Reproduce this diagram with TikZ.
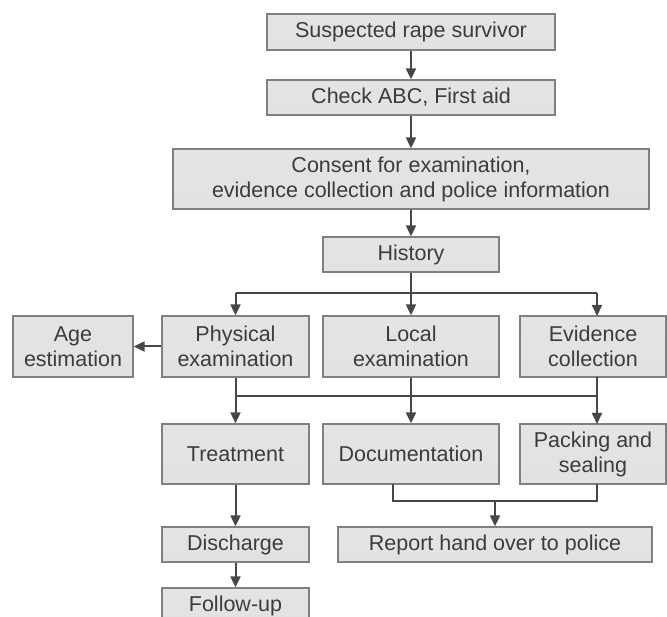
\documentclass[tikz,border=0pt]{standalone}
\usepackage{fontspec}
\setmainfont{Liberation Sans}
\usetikzlibrary{arrows.meta,calc}
\definecolor{txt}{HTML}{3C3C3C}
\definecolor{edge}{HTML}{808080}
\definecolor{ln}{HTML}{474747}
\definecolor{shtop}{HTML}{E4E4E4}
\definecolor{shmid}{HTML}{FCFCFC}
\definecolor{shbot}{HTML}{E2E2E2}
\begin{document}
\begin{tikzpicture}[x=1pt,y=-1pt,
  box/.style={draw=edge, line width=1.3pt, rectangle, inner sep=0pt,
    top color=shtop, middle color=shmid, bottom color=shbot,
    text=txt, align=center,
    font=\fontsize{21.5}{25}\selectfont},
  conn/.style={draw=ln, line width=2pt},
  arr/.style={conn, -{Triangle[width=10pt,length=11pt]}}]
\useasboundingbox (0,0) rectangle (667,617);
\clip (0,0) rectangle (667,617);
\node[box, minimum width=288pt, minimum height=36pt] (sus) at (411,32) {Suspected rape survivor};
\node[box, minimum width=288pt, minimum height=35pt] (chk) at (411,97.5) {Check ABC, First aid};
\node[box, minimum width=476pt, minimum height=60pt] (con) at (411,179) {Consent for examination,\\evidence collection and police information};
\node[box, minimum width=176pt, minimum height=35pt] (his) at (411,254.5) {History};
\node[box, minimum width=120pt, minimum height=61pt] (age) at (73,346.5) {Age\\estimation};
\node[box, minimum width=147pt, minimum height=61pt] (phy) at (235.5,346.5) {Physical\\examination};
\node[box, minimum width=176pt, minimum height=61pt] (loc) at (411,346.5) {Local\\examination};
\node[box, minimum width=146pt, minimum height=61pt] (evi) at (593,346.5) {Evidence\\collection};
\node[box, minimum width=147pt, minimum height=60pt] (tre) at (235.5,454) {Treatment};
\node[box, minimum width=176pt, minimum height=60pt] (doc) at (411,454) {Documentation};
\node[box, minimum width=146pt, minimum height=60pt] (pac) at (593,454) {Packing and\\sealing};
\node[box, minimum width=147pt, minimum height=35pt] (dis) at (235.5,544.5) {Discharge};
\node[box, minimum width=314pt, minimum height=35pt] (rep) at (495,544.5) {Report hand over to police};
\node[box, minimum width=147pt, minimum height=36pt] (fol) at (235.5,606) {Follow-up};
% coordinates of connector junctions
\coordinate (j1) at (411,293);
\coordinate (j1l) at (235.5,293);
\coordinate (j1r) at (597,293);
\coordinate (j2l) at (235.5,396);
\coordinate (j2r) at (597,396);
\coordinate (evs) at (597,377);
\coordinate (pan) at (597,424);
\coordinate (pas) at (597,484);
\coordinate (dcs) at (393,484);
\coordinate (j3l) at (393,501);
\coordinate (j3r) at (597,501);
\coordinate (j3m) at (495,501);
\coordinate (evn) at (597,316);
% connectors
\draw[arr] (sus) -- (chk);
\draw[arr] (chk) -- (con);
\draw[arr] (con) -- (his);
\draw[conn] (his) -- (j1);
\draw[conn] (j1l) -- (j1r);
\draw[arr] (j1l) -- (phy);
\draw[arr] (j1) -- (loc);
\draw[arr] (j1r) -- (evn);
\draw[arr] (phy) -- (age);
\draw[conn] (j2l) -- (j2r);
\draw[arr] (phy) -- (tre);
\draw[arr] (loc) -- (doc);
\draw[arr] (evs) -- (pan);
\draw[arr] (tre) -- (dis);
\draw[arr] (dis) -- (fol);
\draw[conn] (dcs) -- (j3l) -- (j3r) -- (pas);
\draw[arr] (j3m) -- (rep);
\end{tikzpicture}
\end{document}
